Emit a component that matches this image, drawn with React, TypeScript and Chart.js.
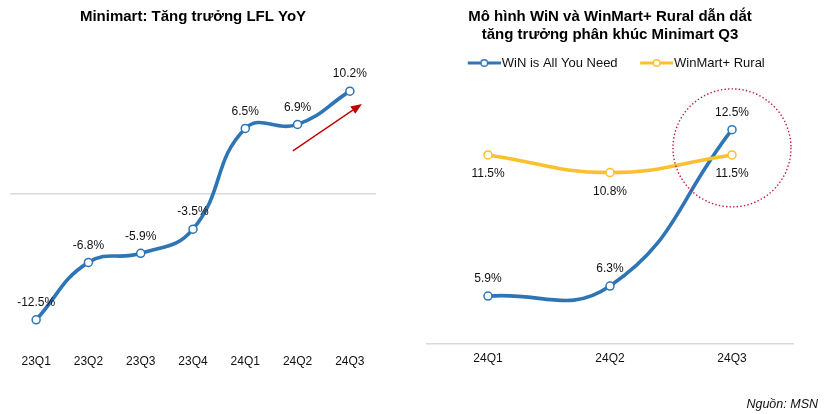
import { useEffect, useRef } from 'react';
import { Chart, registerables } from 'chart.js';

Chart.register(...registerables);

const FONT = "'Liberation Sans', Arial, Helvetica, sans-serif";
const BLUE = '#2E75B6';
const YELLOW = '#FCBF2E';
const RED = '#C00000';
const CIRCLE_RED = '#C0163A';
const AXIS_GRAY = '#D9D9D9';
const TEXT = '#111111';

// ---- Left chart data ----
const lflTitle = 'Minimart: Tăng trưởng LFL YoY';
const lflQuarters = ['23Q1', '23Q2', '23Q3', '23Q4', '24Q1', '24Q2', '24Q3'];
const lflValues = [-12.5, -6.8, -5.9, -3.5, 6.5, 6.9, 10.2];
const lflMin = -15;
const lflMax = 12;
// trend arrow annotation in data units: [category index, value]
const arrowFrom = [4.91, 4.27];
const arrowTo = [6.23, 8.93];

// ---- Right chart data ----
const mixTitle = ['Mô hình WiN và WinMart+ Rural dẫn dắt', 'tăng trưởng phân khúc Minimart Q3'];
const mixQuarters = ['24Q1', '24Q2', '24Q3'];
const seriesNames = ['WiN is All You Need', 'WinMart+ Rural'];
const winValues = [5.9, 6.3, 12.5];
const ruralValues = [11.5, 10.8, 11.5];
const mixMin = 4;
const mixMax = 14;
// highlight circle annotation: category index, value, radius in px
const highlightIndex = 2;
const highlightValue = 11.78;
const highlightRadius = 59;

const sourceText = 'Nguồn: MSN';

const fmt = (v: number) => `${v.toFixed(1)}%`;

const valueLabels = {
  id: 'valueLabels',
  afterDatasetsDraw(chart: any, _args: any, opts: any) {
    const ctx = chart.ctx;
    const offsets: number[] = opts.offsets || [];
    ctx.save();
    ctx.font = `12px ${FONT}`;
    ctx.fillStyle = TEXT;
    ctx.textAlign = 'center';
    ctx.textBaseline = 'middle';
    chart.data.datasets.forEach((ds: any, di: number) => {
      const meta = chart.getDatasetMeta(di);
      meta.data.forEach((pt: any, i: number) => {
        ctx.fillText(fmt(ds.data[i]), pt.x, pt.y + (offsets[di] ?? -17));
      });
    });
    ctx.restore();
  },
};

const trendArrow = {
  id: 'trendArrow',
  afterDatasetsDraw(chart: any) {
    const { ctx, scales } = chart;
    const x1 = scales.x.getPixelForValue(arrowFrom[0]);
    const y1 = scales.y.getPixelForValue(arrowFrom[1]);
    const x2 = scales.x.getPixelForValue(arrowTo[0]);
    const y2 = scales.y.getPixelForValue(arrowTo[1]);
    const ang = Math.atan2(y2 - y1, x2 - x1);
    const headLen = 11;
    const headHalf = 4.5;
    const bx = x2 - headLen * Math.cos(ang);
    const by = y2 - headLen * Math.sin(ang);
    ctx.save();
    ctx.strokeStyle = RED;
    ctx.fillStyle = RED;
    ctx.lineWidth = 1.3;
    ctx.beginPath();
    ctx.moveTo(x1, y1);
    ctx.lineTo(bx, by);
    ctx.stroke();
    ctx.beginPath();
    ctx.moveTo(x2, y2);
    ctx.lineTo(bx + headHalf * Math.sin(ang), by - headHalf * Math.cos(ang));
    ctx.lineTo(bx - headHalf * Math.sin(ang), by + headHalf * Math.cos(ang));
    ctx.closePath();
    ctx.fill();
    ctx.restore();
  },
};

const highlightCircle = {
  id: 'highlightCircle',
  afterDatasetsDraw(chart: any) {
    const { ctx, scales } = chart;
    const cx = scales.x.getPixelForValue(highlightIndex);
    const cy = scales.y.getPixelForValue(highlightValue);
    ctx.save();
    ctx.strokeStyle = CIRCLE_RED;
    ctx.lineWidth = 1.4;
    ctx.setLineDash([1.4, 2.2]);
    ctx.beginPath();
    ctx.arc(cx, cy, highlightRadius, 0, Math.PI * 2);
    ctx.stroke();
    ctx.restore();
  },
};

const legendGap = {
  id: 'legendGap',
  afterInit(chart: any) {
    const legend = chart.legend;
    if (!legend) return;
    const fit = legend.fit;
    legend.fit = function () {
      fit.call(this);
      this.height += 12.4;
    };
  },
};

// legend marker: transparent lead-in, then a 33px line with an open circle
function makeMarker(color: string) {
  const lead = 18;
  const len = 33;
  const c = document.createElement('canvas');
  c.width = lead + len;
  c.height = 10;
  const ctx = c.getContext('2d')!;
  ctx.strokeStyle = color;
  ctx.lineWidth = 3.2;
  ctx.beginPath();
  ctx.moveTo(lead, 5);
  ctx.lineTo(lead + len, 5);
  ctx.stroke();
  ctx.beginPath();
  ctx.arc(lead + len / 2, 5, 3.3, 0, Math.PI * 2);
  ctx.fillStyle = '#ffffff';
  ctx.fill();
  ctx.lineWidth = 1.4;
  ctx.stroke();
  return c;
}

const lineDataset = (label: string, data: number[], color: string, order: number) => ({
  label,
  data,
  borderColor: color,
  backgroundColor: color,
  borderWidth: 3.6,
  tension: 0.45,
  pointRadius: 4,
  pointBorderWidth: 1.5,
  pointBackgroundColor: '#ffffff',
  pointBorderColor: color,
  clip: false as any,
  order,
});

export default function App() {
  const leftRef = useRef<HTMLCanvasElement>(null);
  const rightRef = useRef<HTMLCanvasElement>(null);

  useEffect(() => {
    const left = new Chart(leftRef.current!, {
      type: 'line',
      data: {
        labels: lflQuarters,
        datasets: [lineDataset('LFL YoY', lflValues, BLUE, 0)],
      },
      options: {
        responsive: false,
        animation: false,
        devicePixelRatio: 1,
        layout: { padding: { left: 10, right: 36, top: 0, bottom: 36.6 } },
        plugins: {
          legend: { display: false },
          tooltip: { enabled: false },
          title: {
            display: true,
            text: lflTitle,
            color: '#000',
            font: { family: FONT, size: 15, weight: 'bold', lineHeight: 1.2 },
            padding: { top: 8, bottom: 47 },
          },
          valueLabels: { offsets: [-17] },
        } as any,
        scales: {
          x: {
            type: 'category',
            offset: true,
            grid: { display: false, drawTicks: false },
            border: { display: false },
            ticks: { color: TEXT, font: { family: FONT, size: 12 }, padding: 9 },
          },
          y: {
            min: lflMin,
            max: lflMax,
            grid: {
              drawTicks: false,
              lineWidth: 1.5,
              color: (c: any) => (c.tick && c.tick.value === 0 ? AXIS_GRAY : 'rgba(0,0,0,0)'),
            },
            border: { display: false },
            ticks: { display: false, stepSize: 5 },
          },
        },
      },
      plugins: [valueLabels, trendArrow],
    });

    const markers = [makeMarker(BLUE), makeMarker(YELLOW)];

    const right = new Chart(rightRef.current!, {
      type: 'line',
      data: {
        labels: mixQuarters,
        datasets: [
          lineDataset(seriesNames[0], winValues, BLUE, 1),
          lineDataset(seriesNames[1], ruralValues, YELLOW, 0),
        ],
      },
      options: {
        responsive: false,
        animation: false,
        devicePixelRatio: 1,
        layout: { padding: { left: 15, right: 32, top: 0, bottom: 41.6 } },
        plugins: {
          tooltip: { enabled: false },
          title: {
            display: true,
            text: mixTitle,
            color: '#000',
            font: { family: FONT, size: 15, weight: 'bold', lineHeight: 1.2 },
            padding: { top: 8, bottom: 2.5 },
          },
          legend: {
            display: true,
            position: 'top',
            labels: {
              color: TEXT,
              font: { family: FONT, size: 13 },
              usePointStyle: true,
              pointStyleWidth: 40,
              boxHeight: 12,
              padding: 10,
              generateLabels: (chart: any) =>
                chart.data.datasets.map((ds: any, i: number) => ({
                  text: ds.label,
                  pointStyle: markers[i],
                  fillStyle: ds.borderColor,
                  strokeStyle: ds.borderColor,
                  lineWidth: 0,
                  hidden: false,
                  datasetIndex: i,
                  fontColor: TEXT,
                })),
            },
          },
          valueLabels: { offsets: [-17, 19] },
        } as any,
        scales: {
          x: {
            type: 'category',
            offset: true,
            grid: { display: false, drawTicks: false },
            border: { display: true, color: AXIS_GRAY, width: 1.5 },
            ticks: { color: TEXT, font: { family: FONT, size: 12 }, padding: 7 },
          },
          y: {
            display: false,
            min: mixMin,
            max: mixMax,
          },
        },
      },
      plugins: [legendGap, valueLabels, highlightCircle],
    });

    return () => {
      left.destroy();
      right.destroy();
    };
  }, []);

  return (
    <div
      style={{
        position: 'fixed',
        left: 0,
        top: 0,
        width: 825,
        height: 414,
        background: '#ffffff',
        overflow: 'hidden',
      }}
    >
      <canvas
        ref={leftRef}
        width={412}
        height={414}
        style={{ position: 'absolute', left: 0, top: 0, width: 412, height: 414, display: 'block' }}
      />
      <canvas
        ref={rightRef}
        width={413}
        height={414}
        style={{ position: 'absolute', left: 412, top: 0, width: 413, height: 414, display: 'block' }}
      />
      <div
        style={{
          position: 'absolute',
          right: 7,
          top: 396,
          fontFamily: FONT,
          fontStyle: 'italic',
          fontSize: 12.5,
          lineHeight: '16px',
          color: TEXT,
          whiteSpace: 'nowrap',
        }}
      >
        {sourceText}
      </div>
    </div>
  );
}
